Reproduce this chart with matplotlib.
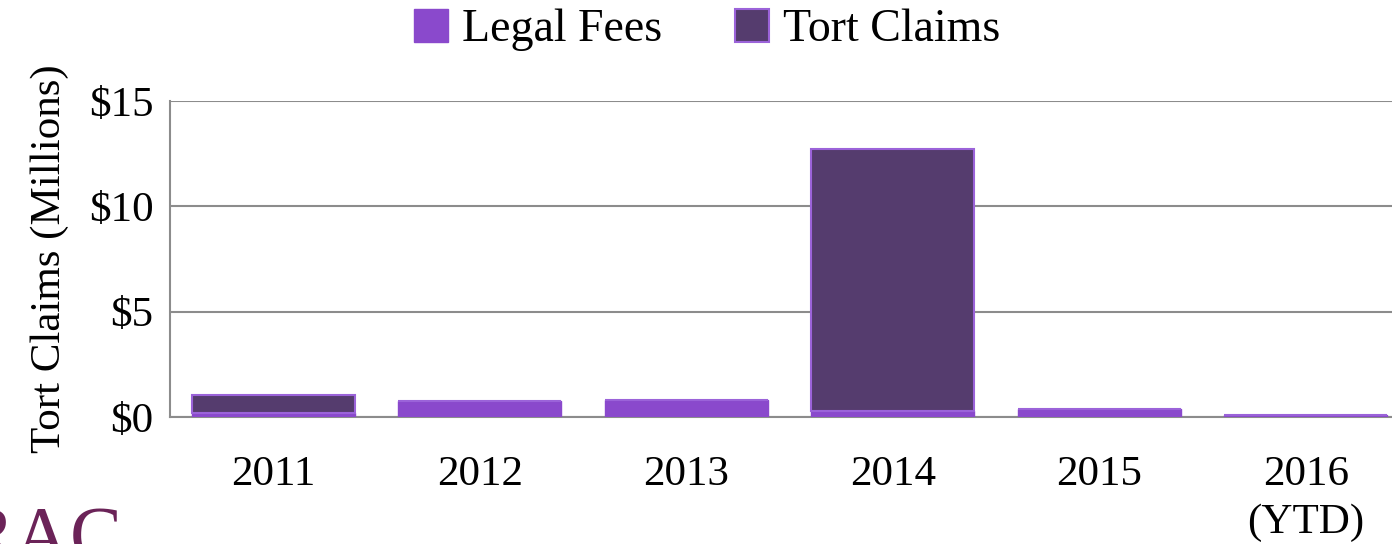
import numpy as np
import matplotlib.pyplot as plt

plt.rcParams['font.family'] = ['Liberation Serif', 'DejaVu Serif']

# Datos (millones de dólares)
years = ['2011', '2012', '2013', '2014', '2015', '2016\n(YTD)']
legal_fees = [0.2, 0.75, 0.8, 0.3, 0.36, 0.08]
tort_claims = [0.85, 0.0, 0.0, 12.42, 0.0, 0.0]
y_ticks = [0, 5, 10, 15]

legal_color = '#8A49CC'
tort_color = '#553C6E'
grid_color = '#8C8C8C'

fig = plt.figure(figsize=(13.92, 5.44), dpi=100)
ax = fig.add_axes([170 / 1392, 1 - 417 / 544, 1239 / 1392, 316 / 544])

x = np.arange(len(years))
ax.bar(x, legal_fees, width=0.79, color=legal_color, edgecolor=legal_color,
       linewidth=1, label='Legal Fees', zorder=3)
ax.bar(x, tort_claims, width=0.79, bottom=legal_fees, color=tort_color,
       edgecolor='#9B63D9', linewidth=1.5, label='Tort Claims', zorder=3)

ax.set_xlim(-0.5, len(years) - 0.5)
ax.set_ylim(0, 15)
ax.set_yticks(y_ticks)
ax.set_yticklabels([f'${v}' for v in y_ticks])
ax.set_xticks(x)
ax.set_xticklabels(years, linespacing=1.3)
ax.tick_params(axis='both', length=0, labelsize=31)
ax.tick_params(axis='y', pad=12)
ax.tick_params(axis='x', pad=28)

ax.yaxis.grid(True, color=grid_color, linewidth=1.5, zorder=0)
for side in ['top', 'right']:
    ax.spines[side].set_visible(False)
for side in ['left', 'bottom']:
    ax.spines[side].set_color(grid_color)
    ax.spines[side].set_linewidth(1.5)

ax.set_ylabel('Tort Claims (Millions)', fontsize=31, labelpad=14)

fig.legend(loc='upper center', bbox_to_anchor=(707 / 1392, 1.06), ncol=2,
           frameon=False, fontsize=33, handlelength=0.75, handleheight=0.75,
           handletextpad=0.3, columnspacing=1.6)

# logo recortado abajo a la izquierda
fig.text(-0.027, -0.03, 'RAC', fontsize=56, color='#6B2358',
         ha='left', va='baseline')

fig.savefig('out.png', dpi=100)
